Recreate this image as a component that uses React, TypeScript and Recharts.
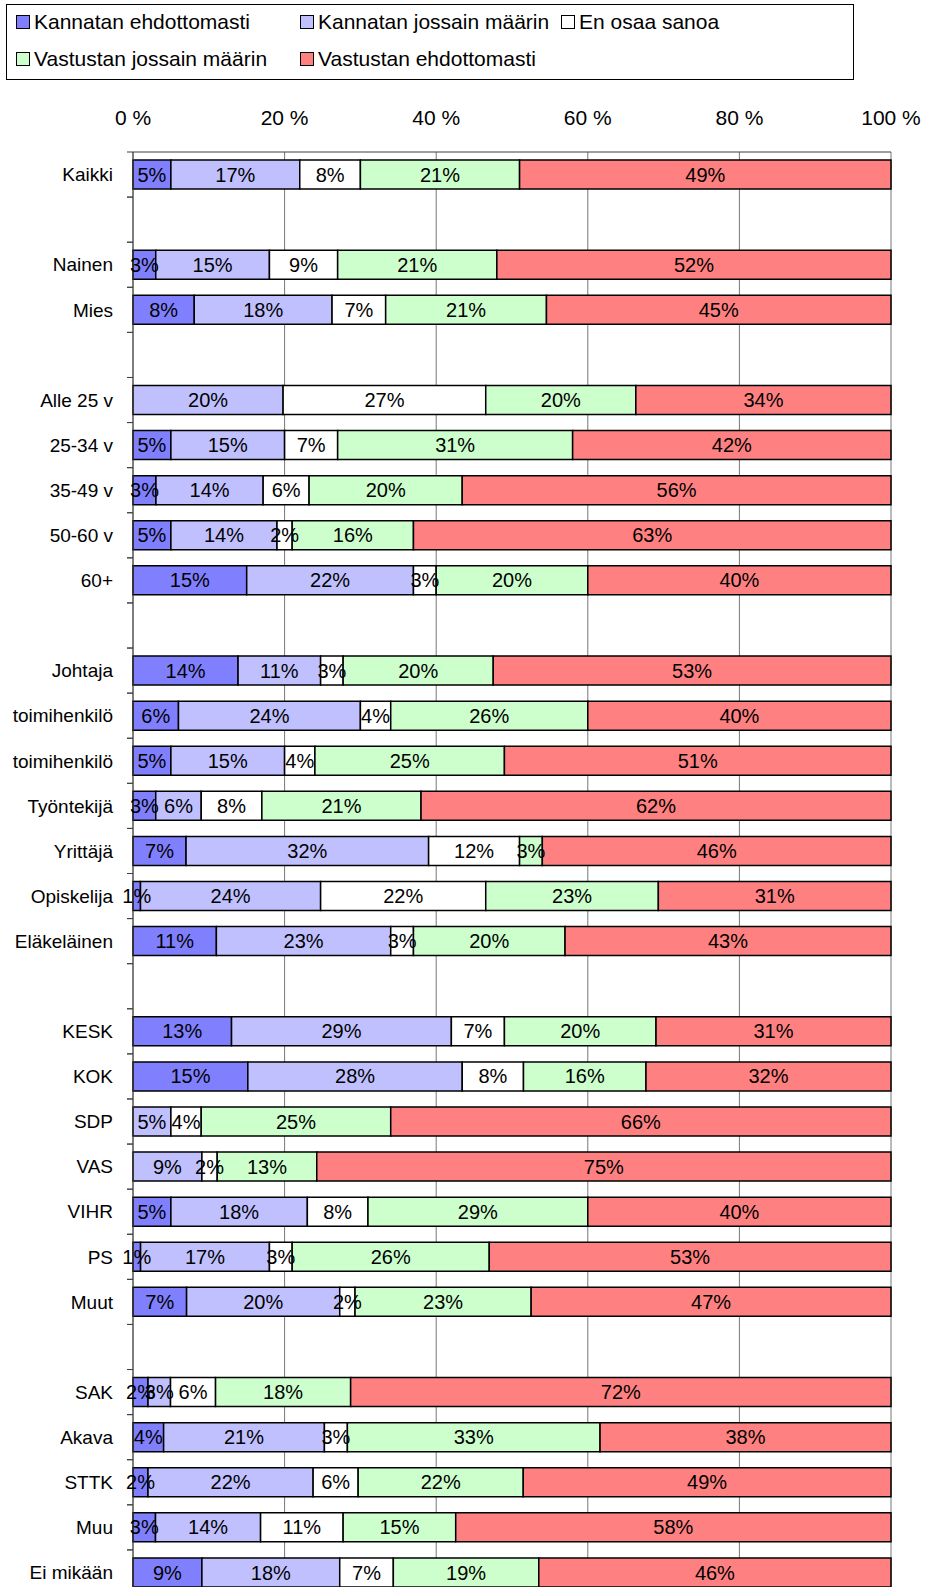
import React from "react";
import { BarChart, Bar, XAxis, YAxis, CartesianGrid, LabelList } from "recharts";

// rows (blank strings are spacer rows between groups)
const categories = [
  "Kaikki", "",
  "Nainen", "Mies", "",
  "Alle 25 v", "25-34 v", "35-49 v", "50-60 v", "60+", "",
  "Johtaja", "toimihenkilö", "toimihenkilö", "Työntekijä", "Yrittäjä", "Opiskelija", "Eläkeläinen", "",
  "KESK", "KOK", "SDP", "VAS", "VIHR", "PS", "Muut", "",
  "SAK", "Akava", "STTK", "Muu", "Ei mikään",
];

const kannatanEhd = [5, null, 3, 8, null, 0, 5, 3, 5, 15, null, 14, 6, 5, 3, 7, 1, 11, null, 13, 15, 0, 0, 5, 1, 7, null, 2, 4, 2, 3, 9];
const kannatanJoss = [17, null, 15, 18, null, 20, 15, 14, 14, 22, null, 11, 24, 15, 6, 32, 24, 23, null, 29, 28, 5, 9, 18, 17, 20, null, 3, 21, 22, 14, 18];
const enOsaa = [8, null, 9, 7, null, 27, 7, 6, 2, 3, null, 3, 4, 4, 8, 12, 22, 3, null, 7, 8, 4, 2, 8, 3, 2, null, 6, 3, 6, 11, 7];
const vastustanJoss = [21, null, 21, 21, null, 20, 31, 20, 16, 20, null, 20, 26, 25, 21, 3, 23, 20, null, 20, 16, 25, 13, 29, 26, 23, null, 18, 33, 22, 15, 19];
const vastustanEhd = [49, null, 52, 45, null, 34, 42, 56, 63, 40, null, 53, 40, 51, 62, 46, 31, 43, null, 31, 32, 66, 75, 40, 53, 47, null, 72, 38, 49, 58, 46];

const series = [
  { key: "ke", name: "Kannatan ehdottomasti", color: "#8080FF", values: kannatanEhd },
  { key: "kj", name: "Kannatan jossain määrin", color: "#C0C0FF", values: kannatanJoss },
  { key: "eos", name: "En osaa sanoa", color: "#FFFFFF", values: enOsaa },
  { key: "vj", name: "Vastustan jossain määrin", color: "#CCFFCC", values: vastustanJoss },
  { key: "ve", name: "Vastustan ehdottomasti", color: "#FF8080", values: vastustanEhd },
];

const xTicks = [0, 0.2, 0.4, 0.6, 0.8, 1];

const data = categories.map((name, i) => {
  const row: any = { name };
  series.forEach((s) => (row[s.key] = s.values[i]));
  return row;
});

const FONT = "'Liberation Sans', Arial, sans-serif";
const W = 930;
const H = 1600;
const MARGIN = { top: 100, right: 39, bottom: 5, left: 0 };
const X_AXIS_H = 52;
const Y_AXIS_W = 133;
const BAND = (H - MARGIN.top - MARGIN.bottom - X_AXIS_H) / categories.length;

function CategoryTick(props: any) {
  const { y, payload } = props;
  return (
    <g>
      <line x1={127} x2={Y_AXIS_W} y1={y - BAND / 2} y2={y - BAND / 2} stroke="#404040" />
      <line x1={127} x2={Y_AXIS_W} y1={y + BAND / 2} y2={y + BAND / 2} stroke="#404040" />
      <text x={113} y={y} dy="0.355em" textAnchor="end" fontSize={19} fontFamily={FONT} fill="#000">
        {payload.value}
      </text>
    </g>
  );
}

const legendRows = [
  [0, 1, 2],
  [3, 4],
];
const legendCols = [16, 300, 561];

function LegendBox() {
  return (
    <div
      style={{
        position: "absolute",
        left: 6,
        top: 4,
        width: 848,
        height: 76,
        border: "1px solid #000",
        boxSizing: "border-box",
        background: "#fff",
        fontFamily: FONT,
        fontSize: 21,
      }}
    >
      {legendRows.map((row, r) =>
        row.map((si, c) => (
          <div
            key={si}
            style={{
              position: "absolute",
              left: legendCols[c] - 7,
              top: r === 0 ? 3 : 40,
              height: 28,
              display: "flex",
              alignItems: "center",
              whiteSpace: "nowrap",
            }}
          >
            <span
              style={{
                display: "inline-block",
                width: 12,
                height: 12,
                border: "1px solid #000",
                background: series[si].color,
                marginRight: 4,
              }}
            />
            <span>{series[si].name}</span>
          </div>
        ))
      )}
    </div>
  );
}

export default function App() {
  return (
    <div
      style={{
        position: "absolute",
        left: 0,
        top: 0,
        width: W,
        height: 1587,
        overflow: "hidden",
        background: "#fff",
      }}
    >
      <BarChart
        width={W}
        height={H}
        data={data}
        layout="vertical"
        stackOffset="expand"
        margin={MARGIN}
        barSize={29}
        style={{ fontFamily: FONT }}
      >
        <CartesianGrid horizontal={false} stroke="#777" />
        <XAxis
          type="number"
          orientation="top"
          domain={[0, 1]}
          ticks={xTicks}
          interval={0}
          height={X_AXIS_H}
          tickSize={0}
          tickMargin={27}
          axisLine={{ stroke: "#404040" }}
          tickFormatter={(v: number) => `${Math.round(v * 100)} %`}
          tick={{ fontSize: 21, fill: "#000", fontFamily: FONT }}
        />
        <YAxis
          type="category"
          dataKey="name"
          width={Y_AXIS_W}
          interval={0}
          tickSize={0}
          tickLine={false}
          axisLine={{ stroke: "#404040" }}
          tick={<CategoryTick />}
        />
        {series.map((s) => (
          <Bar
            key={s.key}
            dataKey={s.key}
            name={s.name}
            stackId="a"
            fill={s.color}
            stroke="#000"
            strokeWidth={1.5}
            isAnimationActive={false}
          >
            <LabelList
              dataKey={s.key}
              position="center"
              fill="#000"
              fontSize={20}
              fontFamily={FONT}
              formatter={(v: any) => (v ? `${v}%` : "")}
            />
          </Bar>
        ))}
      </BarChart>
      <LegendBox />
    </div>
  );
}
